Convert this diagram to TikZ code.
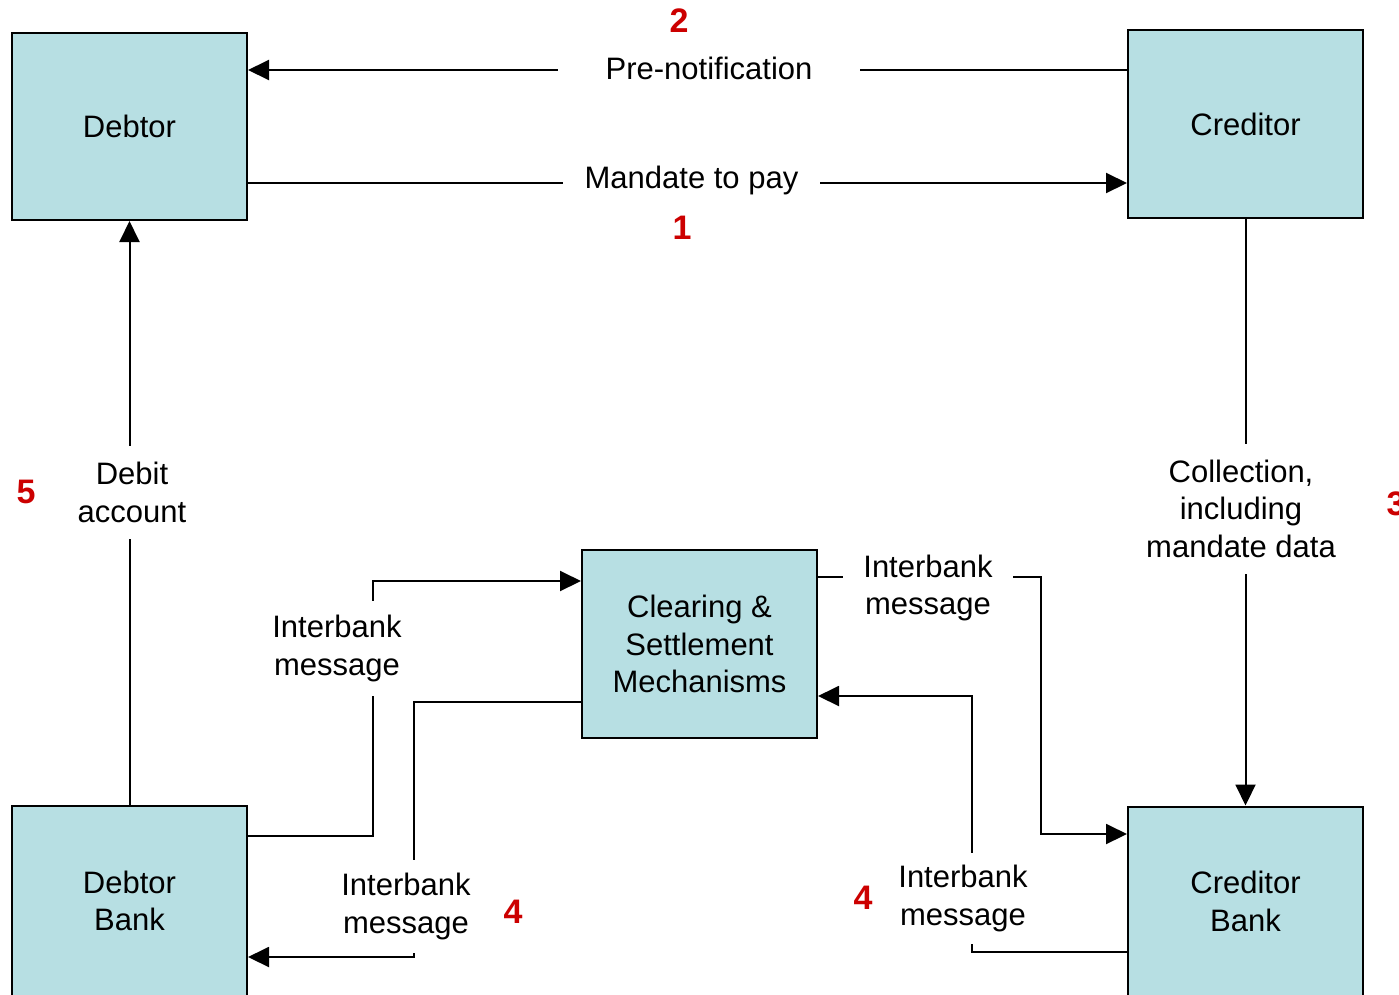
\documentclass[tikz,border=0pt]{standalone}
\usepackage{fontspec}
\setmainfont{Liberation Sans}
\usetikzlibrary{arrows.meta}
\definecolor{boxfill}{RGB}{183,223,227}
\definecolor{numred}{RGB}{204,0,0}
\begin{document}
\begin{tikzpicture}[x=1pt,y=-1pt,
  every node/.style={font=\fontsize{31pt}{37.5pt}\selectfont},
  box/.style={draw=black, line width=2pt, fill=boxfill, minimum width=235pt, minimum height=188pt, align=center, inner sep=0pt},
  arr/.style={line width=2pt, -{Triangle[length=21pt,width=20pt]}},
  lab/.style={fill=white, inner sep=0pt, align=center},
  num/.style={text=numred, font=\fontsize{34pt}{40pt}\selectfont\bfseries}]
\clip (0,0) rectangle (1399,994);
\fill[white] (0,0) rectangle (1399,994);
% boxes
\node[box, minimum height=187pt] (debtor) at (129.5,126.5) {Debtor};
\node[box] (creditor) at (1245.5,124) {Creditor};
\node[box] (clearing) at (699.5,644) {Clearing \&\\Settlement\\Mechanisms};
\node[box, minimum height=190pt] (debtorbank) at (129.5,901) {Debtor\\Bank};
\node[box, minimum height=190pt] (creditorbank) at (1245.5,901.5) {Creditor\\Bank};
% bend coordinates
\coordinate (a1) at (373,836);
\coordinate (a2) at (373,581);
\coordinate (b1) at (414,702);
\coordinate (b2) at (414,957);
\coordinate (c1) at (1041,577);
\coordinate (c2) at (1041,834);
\coordinate (d1) at (972,952);
\coordinate (d2) at (972,696);
% connectors
\draw[arr] (creditor.west |- 0,70) -- (debtor.east |- 0,70);
\draw[arr] (debtor.east |- 0,183) -- (creditor.west |- 0,183);
\draw[arr] (debtorbank.north) -- (debtor.south);
\draw[arr] (creditor.south) -- (creditorbank.north);
\draw[arr] (debtorbank.east |- a1) -- (a1) -- (a2) -- (clearing.west |- a2);
\draw[arr] (clearing.west |- b1) -- (b1) -- (b2) -- (debtorbank.east |- b2);
\draw[arr] (clearing.east |- c1) -- (c1) -- (c2) -- (creditorbank.west |- c2);
\draw[arr] (creditorbank.west |- d1) -- (d1) -- (d2) -- (clearing.east |- d2);
% labels
\node[lab, minimum width=302pt] (prenot) at (709,68) {Pre-notification};
\node[lab, minimum width=257pt] (mandate) at (691.5,180) {Mandate to pay};
\node[lab, minimum height=93pt] (debit) at (132,492.5) {Debit\\account};
\node[lab, minimum height=130pt] (collect) at (1241,508.5) {Collection,\\including\\mandate data};
\node[lab, minimum height=95pt] (ib1) at (337,648.5) {Interbank\\message};
\node[lab, minimum height=93pt] (ib2) at (406,906.5) {Interbank\\message};
\node[lab, minimum width=170pt] (ib3) at (928,588) {Interbank\\message};
\node[lab, minimum height=91pt] (ib4) at (963,898.5) {Interbank\\message};
% step numbers
\node[num] (n1) at (682,228) {1};
\node[num] (n2) at (679,21) {2};
\node[num] (n3) at (1396,504) {3};
\node[num] (n4a) at (513,912) {4};
\node[num] (n4b) at (863,898) {4};
\node[num] (n5) at (26,492) {5};
\end{tikzpicture}
\end{document}
